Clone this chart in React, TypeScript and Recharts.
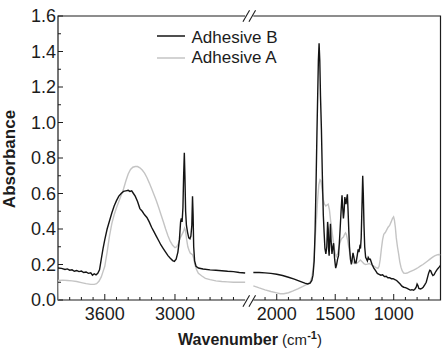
import React from 'react';
import { LineChart, Line, XAxis, YAxis, ReferenceArea, Legend } from 'recharts';

// ---- Spectra (wavenumber in cm^-1, absorbance) ----
// Adhesive B, high-wavenumber region (4000–2400)
const bHighWn = [4000, 3970, 3940, 3920, 3900, 3880, 3860, 3840, 3820, 3800, 3780, 3760, 3740, 3720, 3705, 3690, 3675, 3660, 3645, 3630, 3615, 3600, 3580, 3560, 3540, 3520, 3500, 3480, 3460, 3440, 3420, 3400, 3385, 3370, 3355, 3340, 3320, 3300, 3280, 3260, 3240, 3220, 3200, 3180, 3160, 3140, 3120, 3100, 3080, 3060, 3040, 3020, 3005, 2990, 2975, 2962, 2952, 2946, 2939, 2932, 2926, 2920, 2915, 2909, 2902, 2892, 2882, 2872, 2864, 2856, 2850, 2845, 2840, 2832, 2820, 2800, 2760, 2700, 2650, 2600, 2550, 2500, 2450, 2400];
const bHighAbs = [0.180, 0.178, 0.172, 0.175, 0.168, 0.170, 0.162, 0.166, 0.160, 0.163, 0.155, 0.158, 0.150, 0.153, 0.140, 0.148, 0.142, 0.150, 0.170, 0.230, 0.290, 0.340, 0.400, 0.445, 0.490, 0.530, 0.560, 0.585, 0.600, 0.612, 0.615, 0.618, 0.612, 0.615, 0.600, 0.585, 0.555, 0.515, 0.500, 0.480, 0.465, 0.440, 0.410, 0.385, 0.360, 0.335, 0.310, 0.290, 0.270, 0.250, 0.235, 0.222, 0.218, 0.230, 0.270, 0.340, 0.440, 0.460, 0.440, 0.520, 0.700, 0.830, 0.700, 0.500, 0.420, 0.380, 0.350, 0.345, 0.360, 0.420, 0.585, 0.480, 0.300, 0.220, 0.190, 0.180, 0.175, 0.170, 0.168, 0.165, 0.162, 0.160, 0.155, 0.152];

// Adhesive B, fingerprint region (2200–600)
const bLowWn = [2200, 2150, 2100, 2050, 2000, 1950, 1900, 1850, 1800, 1760, 1735, 1715, 1700, 1690, 1680, 1672, 1664, 1656, 1650, 1644, 1638, 1632, 1626, 1618, 1610, 1602, 1595, 1588, 1580, 1572, 1565, 1560, 1556, 1552, 1547, 1541, 1536, 1528, 1520, 1514, 1505, 1496, 1488, 1480, 1472, 1465, 1458, 1450, 1442, 1436, 1430, 1424, 1418, 1413, 1408, 1402, 1396, 1390, 1384, 1378, 1370, 1362, 1355, 1348, 1340, 1332, 1322, 1312, 1304, 1297, 1290, 1284, 1278, 1270, 1265, 1260, 1254, 1248, 1240, 1232, 1225, 1218, 1210, 1200, 1185, 1170, 1155, 1140, 1125, 1110, 1095, 1080, 1065, 1050, 1035, 1020, 1005, 990, 975, 960, 945, 930, 915, 900, 885, 870, 858, 845, 830, 818, 808, 800, 793, 785, 772, 760, 748, 735, 722, 712, 702, 692, 684, 675, 665, 655, 645, 635, 625, 612, 600];
const bLowAbs = [0.155, 0.155, 0.153, 0.150, 0.145, 0.138, 0.128, 0.118, 0.105, 0.095, 0.090, 0.095, 0.110, 0.140, 0.220, 0.390, 0.650, 0.950, 1.150, 1.350, 1.446, 1.350, 1.150, 0.960, 0.700, 0.480, 0.380, 0.290, 0.260, 0.300, 0.440, 0.400, 0.280, 0.250, 0.330, 0.430, 0.340, 0.260, 0.300, 0.320, 0.230, 0.180, 0.200, 0.230, 0.250, 0.320, 0.400, 0.500, 0.590, 0.520, 0.460, 0.500, 0.580, 0.560, 0.540, 0.570, 0.595, 0.500, 0.390, 0.300, 0.230, 0.200, 0.230, 0.265, 0.240, 0.210, 0.210, 0.250, 0.285, 0.270, 0.300, 0.290, 0.350, 0.560, 0.700, 0.600, 0.420, 0.300, 0.240, 0.230, 0.220, 0.240, 0.230, 0.230, 0.200, 0.180, 0.165, 0.150, 0.145, 0.140, 0.142, 0.132, 0.134, 0.125, 0.126, 0.120, 0.120, 0.115, 0.110, 0.100, 0.090, 0.078, 0.072, 0.070, 0.065, 0.060, 0.056, 0.058, 0.055, 0.062, 0.072, 0.090, 0.082, 0.065, 0.062, 0.066, 0.072, 0.085, 0.100, 0.125, 0.150, 0.168, 0.165, 0.150, 0.138, 0.142, 0.155, 0.165, 0.175, 0.185, 0.195];

// Adhesive A, high-wavenumber region (4000–2400)
const aHighWn = [4000, 3996, 3960, 3920, 3880, 3840, 3800, 3760, 3720, 3690, 3670, 3650, 3630, 3615, 3600, 3580, 3560, 3540, 3520, 3500, 3480, 3460, 3440, 3420, 3400, 3380, 3360, 3340, 3320, 3300, 3280, 3260, 3240, 3220, 3200, 3180, 3160, 3140, 3120, 3100, 3080, 3060, 3040, 3020, 3000, 2985, 2970, 2955, 2940, 2928, 2918, 2910, 2900, 2890, 2880, 2870, 2860, 2850, 2842, 2830, 2815, 2800, 2770, 2740, 2700, 2650, 2600, 2550, 2500, 2450, 2400];
const aHighAbs = [0.000, 0.110, 0.112, 0.110, 0.108, 0.104, 0.098, 0.092, 0.088, 0.088, 0.092, 0.105, 0.130, 0.160, 0.190, 0.270, 0.360, 0.430, 0.480, 0.520, 0.555, 0.590, 0.625, 0.670, 0.710, 0.735, 0.748, 0.752, 0.752, 0.745, 0.732, 0.715, 0.690, 0.660, 0.628, 0.595, 0.560, 0.522, 0.482, 0.442, 0.400, 0.362, 0.330, 0.308, 0.295, 0.300, 0.320, 0.350, 0.370, 0.385, 0.405, 0.390, 0.340, 0.300, 0.280, 0.265, 0.260, 0.255, 0.240, 0.200, 0.170, 0.150, 0.135, 0.122, 0.115, 0.108, 0.104, 0.102, 0.100, 0.100, 0.100];

// Adhesive A, fingerprint region (2200–600)
const aLowWn = [2200, 2150, 2100, 2050, 2000, 1970, 1940, 1900, 1860, 1820, 1780, 1740, 1715, 1700, 1690, 1680, 1670, 1660, 1650, 1640, 1630, 1622, 1612, 1602, 1592, 1580, 1570, 1560, 1550, 1540, 1530, 1520, 1510, 1500, 1490, 1480, 1470, 1460, 1450, 1440, 1430, 1420, 1412, 1405, 1395, 1385, 1375, 1365, 1355, 1345, 1335, 1320, 1300, 1285, 1270, 1255, 1240, 1225, 1210, 1195, 1180, 1165, 1150, 1135, 1125, 1115, 1105, 1095, 1085, 1072, 1060, 1048, 1035, 1022, 1010, 1001, 994, 986, 978, 968, 958, 948, 938, 928, 915, 900, 885, 865, 845, 830, 810, 790, 770, 750, 730, 710, 690, 670, 650, 630, 615, 600];
const aLowAbs = [0.080, 0.068, 0.057, 0.048, 0.040, 0.035, 0.035, 0.041, 0.051, 0.063, 0.076, 0.090, 0.100, 0.130, 0.170, 0.250, 0.360, 0.460, 0.570, 0.650, 0.678, 0.672, 0.620, 0.565, 0.540, 0.530, 0.535, 0.540, 0.510, 0.450, 0.400, 0.350, 0.300, 0.260, 0.245, 0.260, 0.290, 0.320, 0.340, 0.350, 0.355, 0.370, 0.378, 0.370, 0.340, 0.300, 0.260, 0.235, 0.220, 0.210, 0.205, 0.205, 0.215, 0.225, 0.215, 0.205, 0.200, 0.202, 0.205, 0.200, 0.195, 0.188, 0.182, 0.178, 0.190, 0.230, 0.290, 0.340, 0.370, 0.380, 0.395, 0.410, 0.420, 0.440, 0.460, 0.468, 0.450, 0.410, 0.350, 0.300, 0.260, 0.215, 0.185, 0.165, 0.152, 0.150, 0.152, 0.158, 0.164, 0.168, 0.175, 0.183, 0.192, 0.200, 0.210, 0.220, 0.230, 0.240, 0.248, 0.254, 0.256, 0.255];

// ---- Axis ticks ----
const xTickLabels = [3600, 3000, 2000, 1500, 1000];
const xMinorTicks = [3900, 3800, 3700, 3500, 3400, 3300, 3200, 3100, 2900, 2800, 2700, 2600, 2500, 2100, 1900, 1800, 1700, 1600, 1400, 1300, 1200, 1100, 900, 800, 700];
const yTicks = [0, 0.1, 0.2, 0.3, 0.4, 0.5, 0.6, 0.7, 0.8, 0.9, 1.0, 1.1, 1.2, 1.3, 1.4, 1.5, 1.6];

// ---- Broken wavenumber axis: 4000–2400 | gap | 2200–600 ----
const HIGH_START = 4000;
const HIGH_END = 2400;
const LOW_START = 2200;
const LOW_END = 600;
const GAP = 70;
const HIGH_SPAN = HIGH_START - HIGH_END;
const TOTAL_U = HIGH_SPAN + GAP + (LOW_START - LOW_END);

const toU = (wn: number) =>
  wn >= HIGH_END ? HIGH_START - wn : HIGH_SPAN + GAP + (LOW_START - wn);
const fromU = (u: number) =>
  Math.round(u <= HIGH_SPAN ? HIGH_START - u : LOW_START - (u - HIGH_SPAN - GAP));

type Pt = { u: number; v: number | null };
const buildSeries = (hw: number[], ha: number[], lw: number[], la: number[]): Pt[] => {
  const pts: Pt[] = hw.map((w, i) => ({ u: toU(w), v: ha[i] }));
  pts.push({ u: HIGH_SPAN + GAP / 2, v: null });
  lw.forEach((w, i) => pts.push({ u: toU(w), v: la[i] }));
  return pts;
};

const seriesB = buildSeries(bHighWn, bHighAbs, bLowWn, bLowAbs);
const seriesA = buildSeries(aHighWn, aHighAbs, aLowWn, aLowAbs);
const xTicksU = [...xTickLabels, ...xMinorTicks].map(toU).sort((p, q) => p - q);

const FONT = '"Liberation Sans", Arial, Helvetica, sans-serif';
const INK = '#1c1c1c';
const COLOR_B = '#141414';
const COLOR_A = '#c4c4c4';

const isMajorX = (u: number) => xTickLabels.includes(fromU(u));
const isMajorY = (v: number) => Math.round(v * 10) % 2 === 0;

const BottomTick = (props: any) => {
  const { x, y, payload } = props;
  const major = isMajorX(payload.value);
  return (
    <g>
      <line x1={x} x2={x} y1={y} y2={y - (major ? 6 : 3)} stroke={INK} strokeWidth={1} />
      {major && (
        <text x={x} y={y + 20} textAnchor="middle" fontSize={18} fontFamily={FONT} fill={INK}>
          {fromU(payload.value)}
        </text>
      )}
    </g>
  );
};

const TopTick = (props: any) => {
  const { x, y, payload } = props;
  const major = isMajorX(payload.value);
  return <line x1={x} x2={x} y1={y} y2={y + (major ? 6 : 3)} stroke={INK} strokeWidth={1} />;
};

const LeftTick = (props: any) => {
  const { x, y, payload } = props;
  const major = isMajorY(payload.value);
  return (
    <g>
      <line x1={x} x2={x + (major ? 5 : 3)} y1={y} y2={y} stroke={INK} strokeWidth={1} />
      {major && (
        <text x={x - 2} y={y + 6.4} textAnchor="end" fontSize={18} fontFamily={FONT} fill={INK}>
          {payload.value.toFixed(1)}
        </text>
      )}
    </g>
  );
};

const RightTick = (props: any) => {
  const { x, y, payload } = props;
  const major = isMajorY(payload.value);
  return <line x1={x} x2={x - (major ? 5 : 3)} y1={y} y2={y} stroke={INK} strokeWidth={1} />;
};

// Frame pieces for each side of the axis break
const FrameLeft = (props: any) => {
  const { x, y, width, height } = props;
  return (
    <path
      d={`M${x + width},${y} L${x},${y} L${x},${y + height} L${x + width},${y + height}`}
      fill="none"
      stroke={INK}
      strokeWidth={1.2}
    />
  );
};

const FrameRight = (props: any) => {
  const { x, y, width, height } = props;
  return (
    <path
      d={`M${x},${y} L${x + width},${y} L${x + width},${y + height} L${x},${y + height}`}
      fill="none"
      stroke={INK}
      strokeWidth={1.2}
    />
  );
};

// "//" break marks on the top and bottom edges
const BreakMarks = (props: any) => {
  const { x, y, width, height } = props;
  const c = x + width / 2;
  const slash = (cx: number, cy: number, k: string) => (
    <line key={k} x1={cx - 3.3} y1={cy + 5.8} x2={cx + 3.3} y2={cy - 5.8} stroke={INK} strokeWidth={1.1} />
  );
  return (
    <g>
      {slash(c - 3, y, 't1')}
      {slash(c + 3, y, 't2')}
      {slash(c - 3, y + height + 1, 'b1')}
      {slash(c + 3, y + height + 1, 'b2')}
    </g>
  );
};

const LegendBox = () => (
  <svg width={140} height={50} style={{ display: 'block', overflow: 'visible' }}>
    <line x1={7} x2={35} y1={16} y2={16} stroke={COLOR_B} strokeWidth={1.5} />
    <text x={41.5} y={22.5} fontSize={17} fontFamily={FONT} fill={INK}>Adhesive B</text>
    <line x1={7} x2={35} y1={38} y2={38} stroke={COLOR_A} strokeWidth={1.5} />
    <text x={41.5} y={42.7} fontSize={17} fontFamily={FONT} fill={INK}>Adhesive A</text>
  </svg>
);

export default function App() {
  return (
    <div style={{ position: 'fixed', left: 0, top: 0, width: 445, height: 348, background: '#fff' }}>
      <LineChart
        width={445}
        height={348}
        margin={{ top: 16, right: 4.5, bottom: 0, left: 0 }}
      >
        <XAxis
          dataKey="u"
          type="number"
          domain={[0, TOTAL_U]}
          allowDataOverflow
          ticks={xTicksU}
          interval={0}
          height={48}
          axisLine={false}
          tickLine={false}
          tickSize={0}
          tickMargin={0}
          tick={<BottomTick />}
        />
        <XAxis
          xAxisId="top"
          orientation="top"
          dataKey="u"
          type="number"
          domain={[0, TOTAL_U]}
          allowDataOverflow
          ticks={xTicksU}
          interval={0}
          height={0}
          axisLine={false}
          tickLine={false}
          tickSize={0}
          tickMargin={0}
          tick={<TopTick />}
        />
        <YAxis
          type="number"
          domain={[0, 1.6]}
          allowDataOverflow
          ticks={yTicks}
          interval={0}
          width={58}
          axisLine={false}
          tickLine={false}
          tickSize={0}
          tickMargin={0}
          tick={<LeftTick />}
        />
        <YAxis
          yAxisId="right"
          orientation="right"
          type="number"
          domain={[0, 1.6]}
          allowDataOverflow
          ticks={yTicks}
          interval={0}
          width={0}
          axisLine={false}
          tickLine={false}
          tickSize={0}
          tickMargin={0}
          tick={<RightTick />}
        />
        <ReferenceArea x1={0} x2={HIGH_SPAN} shape={<FrameLeft />} />
        <ReferenceArea x1={HIGH_SPAN + GAP} x2={TOTAL_U} shape={<FrameRight />} />
        <ReferenceArea x1={HIGH_SPAN} x2={HIGH_SPAN + GAP} shape={<BreakMarks />} />
        <Line
          data={seriesA}
          dataKey="v"
          name="Adhesive A"
          type="linear"
          stroke={COLOR_A}
          strokeWidth={1.4}
          dot={false}
          activeDot={false}
          connectNulls={false}
          isAnimationActive={false}
        />
        <Line
          data={seriesB}
          dataKey="v"
          name="Adhesive B"
          type="linear"
          stroke={COLOR_B}
          strokeWidth={1.4}
          dot={false}
          activeDot={false}
          connectNulls={false}
          isAnimationActive={false}
        />
        <Legend
          layout="vertical"
          align="center"
          verticalAlign="middle"
          wrapperStyle={{ left: 150, top: 20, width: 140, height: 50 }}
          content={() => <LegendBox />}
        />
        <text
          transform="translate(15,159) rotate(-90)"
          textAnchor="middle"
          fontSize={17}
          fontWeight="bold"
          fontFamily={FONT}
          fill={INK}
        >
          Absorbance
        </text>
        <text x={250} y={345} textAnchor="middle" fontFamily={FONT} fill={INK}>
          <tspan fontSize={16} fontWeight="bold">Wavenumber</tspan>
          <tspan fontSize={15}> (cm</tspan>
          <tspan fontSize={11} fontWeight="bold" dy={-6}>-1</tspan>
          <tspan fontSize={15} dy={6}>)</tspan>
        </text>
      </LineChart>
    </div>
  );
}
